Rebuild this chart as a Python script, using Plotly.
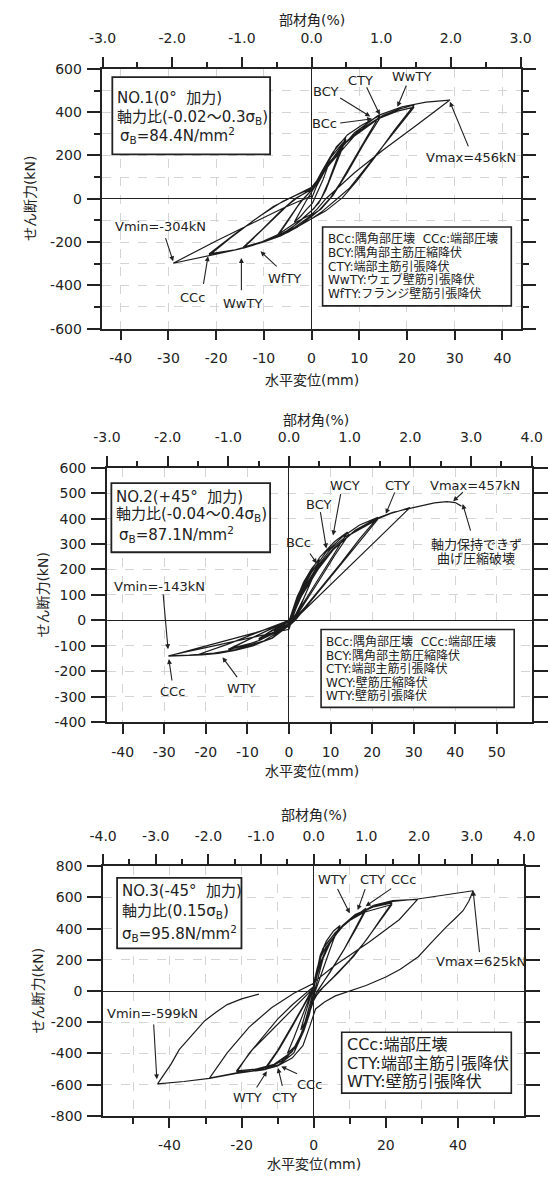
import plotly.graph_objects as go

W, H = 550, 1183
FONT = "DejaVu Sans, Noto Sans CJK JP, sans-serif"
INK = "#222222"

# ---------------- data ----------------
# Panel 1 : NO.1 (0 deg) horizontal displacement (mm) / shear force (kN)
p1_x = [0, 1, 2.2, 3.6, 2.4, 1.2, 0.2, -1, -2.3, -3.6, -2.3, -1, 0,
        1.5, 3.2, 5.2, 7.2, 5.4, 3.5, 2, 0.5, -1.5, -3.5, -5.5, -7.2, -5, -3, -1.5, 0,
        2, 4.2, 7.2, 5, 3, 1.5, 0, -2.5, -5, -7.2, -4.6, -2.3, 0,
        2, 4.5, 7.5, 10.5, 14.3, 11.5, 8.5, 6, 4, 1.5, 0, -3, -6.5, -10, -14.3, -11, -8, -5, -3, 0,
        3, 6.5, 10, 14.3, 11, 7.5, 4.5, 2, 0, -3.5, -8, -14.3, -10.5, -6.5, -3.5, 0,
        3, 7, 11, 15, 18.5, 21.5, 17.5, 13.5, 9.5, 6.5, 3, 0, -4, -9, -14, -18, -21.5, -17, -12, -8, -5, -2, 0,
        4, 9, 14, 18, 21.5, 17, 12, 8, 5.5, 2, 0, -5, -11, -16, -21.5, -16, -10.5, -6, -3, 0,
        4, 9, 14, 19, 24, 29, 22, 15, 9, 5, 3, 1.2, 0, -3, -7, -11, -15, -20, -25, -29, -20, -12, -6, -3, 0]
p1_y = [0, 55, 105, 160, 88, 25, -20, -48, -82, -108, -53, -5, 30,
        85, 155, 240, 285, 190, 75, 0, -45, -83, -122, -152, -175, -105, -38, 5, 40,
        115, 195, 275, 150, 40, -20, -55, -105, -148, -170, -88, -15, 38,
        120, 215, 295, 340, 385, 282, 168, 72, 5, -55, -82, -132, -172, -200, -228, -158, -92, -30, 5, 46,
        142, 250, 315, 372, 255, 120, 15, -48, -76, -132, -183, -224, -145, -58, 0, 43,
        135, 255, 330, 385, 415, 433, 320, 198, 82, 5, -56, -92, -142, -190, -226, -246, -262, -182, -98, -36, -2, 29, 53,
        165, 290, 370, 405, 423, 298, 162, 50, 2, -63, -92, -156, -206, -236, -255, -162, -75, -12, 19, 48,
        175, 305, 385, 425, 446, 456, 340, 225, 120, 40, 0, -47, -72, -105, -165, -205, -232, -256, -278, -298, -195, -107, -44, -15, 12]

# Panel 2 : NO.2 (+45 deg)
p2_x = [0, 1.2, 2.4, 3.6, 2.4, 1.2, 0, -1.5, -3.6, -2, 0,
        1.5, 3.5, 5.5, 7.3, 5.5, 3.5, 1.5, 0, -2.5, -5, -7.3, -4.5, -2, 0,
        2, 4.5, 7.3, 5, 2.5, 0, -3.5, -7.3, -4, 0,
        2, 4.5, 7.5, 11, 14.1, 11, 8, 5, 2, 0, -3, -7, -11, -14.6, -10, -5, 0,
        3, 6.5, 10, 14.5, 11, 7, 3.5, 0.5, -3.5, -8, -14.6, -9, -4, 0,
        2.5, 5.5, 9, 13, 17, 21.4, 17, 12.5, 8, 4, 1, 0, -4, -8.7, -13, -17, -22, -15, -8, -3, 0,
        3, 6.5, 10.5, 15, 21.4, 16, 10.5, 5.5, 1.5, 0, -6, -13, -18, -24, -29, -20, -12, -5, 0,
        1.5, 3.5, 6.5, 10.5, 15, 20, 24.5, 29.1, 22, 16, 10, 5, 2, 0, -4, -8.7, -13, -17, -21, -25, -29, -21, -14.9, -8, -3, 0,
        3, 7, 11, 16, 21, 25, 29.1, 32, 35, 38, 40, 41.5]
p2_y = [0, 50, 95, 130, 75, 25, -12, -25, -42, -25, -5,
        70, 150, 205, 240, 160, 85, 20, -15, -38, -57, -75, -45, -20, -2,
        90, 170, 232, 140, 45, -15, -45, -72, -38, -3,
        95, 175, 250, 310, 347, 265, 185, 105, 30, -18, -45, -78, -100, -115, -78, -38, -3,
        110, 205, 280, 340, 255, 150, 60, -15, -50, -85, -113, -70, -30, 0,
        100, 190, 270, 330, 375, 405, 320, 225, 135, 55, 0, -20, -70, -98, -117, -128, -135, -95, -50, -20, 0,
        105, 200, 280, 340, 398, 290, 180, 80, 0, -22, -80, -115, -128, -136, -139, -107, -78, -53, -35,
        40, 115, 195, 275, 340, 390, 420, 443, 330, 235, 140, 62, 15, -18, -68, -100, -118, -130, -136, -139, -140, -105, -78, -48, -22, -8,
        95, 200, 285, 355, 400, 425, 440, 452, 462, 467, 463, 449]

# Panel 3 : NO.3 (-45 deg)
p3_x = [0, 0.8, 2, 3.6, 2.5, 1.2, 0, -1, -2.2, -3.6, -2.4, -1, 0,
        0.7, 1.8, 3.5, 5.5, 7.3, 5.5, 3.5, 1.8, 0, -1.2, -2.8, -5, -7.3, -5.5, -3.5, -1.5, 0,
        0.7, 2.5, 6, 11.3, 14.5, 12, 8.5, 5, 1.5, 0, -1.5, -3, -5.5, -9.9, -13.5, -10, -6.5, -3, 0,
        1.5, 4, 8, 11.5, 14.5, 11.5, 8, 4.5, 1, 0, -2, -5, -9, -13.5, -9.5, -6, -2.5, 0,
        1.5, 4, 8, 12, 16.6, 21.7, 18.5, 15, 11, 6.5, 2.5, 0, -2, -4.5, -8, -13, -17, -21.4, -17.9, -14, -10, -6, -2, 0,
        2, 5, 9, 14, 21.7, 18, 14, 10, 5.5, 1.5, 0, -2.5, -6, -11, -16, -21.4, -17, -11.7, -6.4, -1.9, 0,
        2.5, 6, 11.3, 16.6, 21.9, 28.8, 23.7, 15.3, 6, 0.4, -0.6, -2.8, -5.5, -9.9, -13.4, -21.4, -28.9, -24, -17.9, -11.7, -5.5, -1.9, 0,
        1, 3, 7, 12, 17, 22, 28.8, 35, 40, 44.2, 43, 41.4, 39, 36.7, 33, 29, 24, 20, 14.5, 9, 6, 3, 0.5,
        -1, -3, -6, -10, -14, -21.4, -28.9, -36, -43.3, -39.6, -37.3, -34, -30.2, -27, -24, -20, -15.2]
p3_y = [0, 120, 220, 290, 200, 90, -20, -110, -190, -250, -150, -40, 30,
        110, 230, 320, 385, 420, 330, 200, 90, -30, -150, -260, -350, -400, -300, -180, -60, 30,
        100, 270, 375, 477, 530, 420, 270, 140, 20, -40, -170, -270, -397, -475, -495, -380, -240, -100, 30,
        160, 300, 420, 490, 520, 390, 250, 120, 0, -50, -200, -360, -450, -505, -370, -230, -80, 20,
        150, 290, 420, 490, 540, 565, 460, 340, 220, 110, 20, -50, -190, -340, -440, -490, -510, -520, -400, -290, -180, -90, -10, 30,
        180, 330, 440, 505, 555, 440, 310, 200, 90, 0, -60, -230, -390, -470, -500, -512, -376, -253, -128, -25, 20,
        271, 374, 477, 550, 580, 588, 457, 312, 167, 64, -45, -230, -397, -479, -500, -525, -558, -397, -231, -107, -14, 27, 50,
        150, 290, 400, 490, 545, 575, 590, 610, 628, 643, 575, 515, 460, 410, 320, 220, 140, 90, 35, -5, -31, -70, -115,
        -220, -350, -430, -480, -505, -528, -560, -580, -595, -470, -376, -290, -190, -135, -87, -50, -20]

for a, b in ((p1_x, p1_y), (p2_x, p2_y), (p3_x, p3_y)):
    assert len(a) == len(b)

# tick values
p1_mm_ticks = [-40, -30, -20, -10, 0, 10, 20, 30, 40]
p2_mm_ticks = [-40, -30, -20, -10, 0, 10, 20, 30, 40, 50]
p3_mm_ticks = [-40, -20, 0, 20, 40]
p3_mm_minor = [-50, -30, -10, 10, 30, 50]
p1_pct_ticks = [-3, -2, -1, 0, 1, 2, 3]
p2_pct_ticks = [-3, -2, -1, 0, 1, 2, 3, 4]
p3_pct_ticks = [-4, -3, -2, -1, 0, 1, 2, 3, 4]
p1_kn_ticks = [-600, -400, -200, 0, 200, 400, 600]
p1_kn_minor = [-500, -300, -100, 100, 300, 500]
p2_kn_ticks = [-400, -300, -200, -100, 0, 100, 200, 300, 400, 500, 600]
p3_kn_ticks = [-800, -600, -400, -200, 0, 200, 400, 600, 800]

# texts
SP = "\u00a0\u00a0"
p1_box = ["NO.1(0°" + SP + "加力)", "軸力比(-0.02～0.3σ<sub>B</sub>)", "σ<sub>B</sub>=84.4N/mm<sup>2</sup>"]
p2_box = ["NO.2(+45°" + SP + "加力)", "軸力比(-0.04～0.4σ<sub>B</sub>)", "σ<sub>B</sub>=87.1N/mm<sup>2</sup>"]
p3_box = ["NO.3(-45°" + SP + "加力)", "軸力比(0.15σ<sub>B</sub>)", "σ<sub>B</sub>=95.8N/mm<sup>2</sup>"]
p1_legend = ["BCc:隅角部圧壊" + SP + "CCc:端部圧壊", "BCY:隅角部主筋圧縮降伏", "CTY:端部主筋引張降伏",
             "WwTY:ウェブ壁筋引張降伏", "WfTY:フランジ壁筋引張降伏"]
p2_legend = ["BCc:隅角部圧壊" + SP + "CCc:端部圧壊", "BCY:隅角部主筋圧縮降伏", "CTY:端部主筋引張降伏",
             "WCY:壁筋圧縮降伏", "WTY:壁筋引張降伏"]
p3_legend = ["CCc:端部圧壊", "CTY:端部主筋引張降伏", "WTY:壁筋引張降伏"]

p1_labels = [("BCY", 3.0, 497), ("CTY", 10.2, 547), ("WwTY", 21, 565), ("BCc", 2.7, 349),
             ("Vmax=456kN", 33.5, 190), ("Vmin=-304kN", -31.7, -130), ("CCc", -24.9, -454),
             ("WwTY", -14.5, -486), ("WfTY", -5.7, -369)]
p1_arrows = [(5.7, 470, 12.3, 380), (11.4, 522, 14.3, 388), (20, 530, 18, 425), (5.7, 349, 12.7, 369),
             (33, 235, 29, 448), (-30.7, -175, -29, -289), (-22.7, -400, -21.7, -266),
             (-14.7, -430, -14.7, -274), (-7, -319, -10.7, -243)]
p2_labels = [("WCY", 13.4, 529), ("CTY", 26, 529), ("BCY", 7.3, 457), ("BCc", 2.4, 308),
             ("Vmax=457kN", 44.7, 529), ("軸力保持できず", 45.1, 300), ("曲げ圧縮破壊", 45.1, 244),
             ("Vmin=-143kN", -31.1, 133), ("CCc", -28, -281), ("WTY", -11.4, -268)]
p2_arrows = [(12.5, 502, 10.6, 334), (25.6, 509, 23.3, 419), (7.5, 431, 9, 283), (4.8, 269, 6.7, 224),
             (42.2, 509, 39.5, 468), (43.8, 347, 41.8, 457), (-30.3, 108, -29.1, -113),
             (-28.1, -242, -28.9, -152), (-12.2, -229, -16, -145)]
p3_labels = [("WTY", 5.1, 715), ("CTY", 16.2, 715), ("CCc", 25, 715), ("Vmax=625kN", 46.5, 188),
             ("Vmin=-599kN", -44.6, -143), ("WTY", -18.3, -680), ("CTY", -8.1, -680), ("CCc", -1.1, -597)]
p3_arrows = [(6.4, 663, 10, 498), (14.4, 663, 12.2, 519), (21.9, 663, 14.4, 544), (46, 240, 44.2, 643),
             (-44.4, -205, -43.5, -566), (-4.2, -535, -9, -484), (-8.6, -618, -9.9, -494),
             (-16.1, -628, -13, -515)]

# ---------------- layout geometry (pixels) ----------------
K = 14.6  # mm per 1 % drift
panels = [
    dict(x=p1_x, y=p1_y, box=p1_box, legend=p1_legend, labels=p1_labels, arrows=p1_arrows,
         mm=p1_mm_ticks, mm_minor=None, pct=p1_pct_ticks, kn=p1_kn_ticks, kn_minor=p1_kn_minor,
         pr=[-3, 3], yr=[-600, 600], L=92.7, R=530.7, T=61.7, B=325,
         boxpx=(103, 268.3, 70, 148.3), boxlines=[(106, 91.7), (106, 110.5), (109, 129.5)], boxfs=15,
         legpx=(323.3, 521, 222, 302), leglines=[234.5, 248.2, 261.9, 275.6, 289.3], legx=327, legfs=12,
         ttop=(312, 12), tbot=(312, 377), tyl=(17.5, 193)),
    dict(x=p2_x, y=p2_y, box=p2_box, legend=p2_legend, labels=p2_labels, arrows=p2_arrows,
         mm=p2_mm_ticks, mm_minor=None, pct=p2_pct_ticks, kn=p2_kn_ticks, kn_minor=None,
         pr=[-3, 4], yr=[-400, 600], L=97.3, R=542.4, T=466, B=724,
         boxpx=(102, 268.3, 481.7, 551.7), boxlines=[(105, 495.5), (105, 513), (108, 534)], boxfs=15,
         legpx=(321.7, 524, 630, 709), leglines=[642.5, 656.2, 669.9, 683.6, 697.3], legx=325, legfs=12,
         ttop=(316, 418), tbot=(312, 773), tyl=(30, 595)),
    dict(x=p3_x, y=p3_y, box=p3_box, legend=p3_legend, labels=p3_labels, arrows=p3_arrows,
         mm=p3_mm_ticks, mm_minor=p3_mm_minor, pct=p3_pct_ticks, kn=p3_kn_ticks, kn_minor=None,
         pr=[-4, 4], yr=[-800, 800], L=93.3, R=534.7, T=870, B=1123,
         boxpx=(108, 238.3, 881.7, 953.3), boxlines=[(111.5, 895), (111.5, 915.5), (111.5, 938)], boxfs=15,
         legpx=(343.3, 521, 1038.3, 1100), leglines=[1051.2, 1069.5, 1087.8], legx=347, legfs=16,
         ttop=(314, 818), tbot=(314, 1172), tyl=(25, 996)),
]


def fx(px):
    return px / W


def fy(py):
    return 1 - py / H


def lab(v, dec=0):
    return f"{v:.{dec}f}"


fig = go.Figure()
shapes, annotations = [], []
layout = dict(width=W, height=H, margin=dict(l=0, r=0, t=0, b=0, pad=0), autosize=False,
              paper_bgcolor="white", plot_bgcolor="white", showlegend=False,
              font=dict(family=FONT, color=INK))

tick_font = dict(family=FONT, size=14, color=INK)
GRID = "#d4d4d4"
EPS = 1e-3
for i, p in enumerate(panels, start=1):
    sfx = "" if i == 1 else str(i)
    top_id = i + 3
    xname, yname, tname = "x" + sfx, "y" + sfx, "x" + str(top_id)
    pr = [p["pr"][0] - EPS, p["pr"][1] + EPS]
    xr = [pr[0] * K, pr[1] * K]
    fig.add_trace(go.Scatter(x=p["x"], y=p["y"], mode="lines", xaxis=xname, yaxis=yname,
                             line=dict(color="#1c1c1c", width=1.2), hoverinfo="skip"))
    # invisible trace that activates the top (drift angle) axis
    fig.add_trace(go.Scatter(x=[0], y=[0], mode="markers", marker=dict(opacity=0), xaxis=tname,
                             yaxis=yname, hoverinfo="skip"))
    xdom = [fx(p["L"]), fx(p["R"])]
    ydom = [fy(p["B"]), fy(p["T"])]
    xa = dict(domain=xdom, anchor=yname, range=xr, tickmode="array", tickvals=p["mm"],
              ticktext=[lab(v) for v in p["mm"]], ticks="outside", ticklen=10, tickwidth=1.5,
              tickcolor=INK, showline=True, linecolor=INK, linewidth=1.6, mirror=False,
              showgrid=True, gridcolor=GRID, griddash="dash", gridwidth=1,
              zeroline=True, zerolinecolor=INK, zerolinewidth=1.3, tickfont=tick_font,
              ticklabelstandoff=6, fixedrange=True)
    if p["mm_minor"]:
        xa["minor"] = dict(tickmode="array", tickvals=p["mm_minor"], ticks="outside", ticklen=6,
                           tickwidth=1.5, tickcolor=INK, showgrid=True, gridcolor=GRID,
                           griddash="dash", gridwidth=1)
    layout["xaxis" + sfx] = xa
    pct_minor = [v + 0.5 for v in p["pct"][:-1]]
    layout["xaxis" + str(top_id)] = dict(
        overlaying=xname, anchor=yname, side="top", domain=xdom, range=pr,
        tickmode="array", tickvals=p["pct"], ticktext=[lab(v, 1) for v in p["pct"]],
        ticks="outside", ticklen=10, tickwidth=1.5, tickcolor=INK, showline=True, linecolor=INK,
        linewidth=1.6, showgrid=False, zeroline=False, tickfont=tick_font, ticklabelstandoff=8,
        fixedrange=True,
        minor=dict(tickmode="array", tickvals=pct_minor, ticks="outside", ticklen=5, tickwidth=1.5,
                   tickcolor=INK, showgrid=False))
    ya = dict(domain=ydom, anchor=xname, range=p["yr"], tickmode="array", tickvals=p["kn"],
              ticktext=[lab(v) for v in p["kn"]], ticks="outside", ticklen=14, tickwidth=1.5,
              tickcolor=INK, showline=True, linecolor=INK, linewidth=1.6, mirror="ticks",
              showgrid=True, gridcolor=GRID, griddash="dash", gridwidth=1,
              zeroline=True, zerolinecolor=INK, zerolinewidth=1.3, tickfont=tick_font,
              ticklabelstandoff=2, fixedrange=True)
    if p["kn_minor"]:
        ya["minor"] = dict(tickmode="array", tickvals=p["kn_minor"], ticks="outside", ticklen=7,
                           tickwidth=1.5, tickcolor=INK, showgrid=True, gridcolor=GRID,
                           griddash="dash", gridwidth=1)
    layout["yaxis" + sfx] = ya

    # specimen info box
    bx0, bx1, by0, by1 = p["boxpx"]
    shapes.append(dict(type="rect", xref="paper", yref="paper", x0=fx(bx0), x1=fx(bx1),
                       y0=fy(by1), y1=fy(by0), line=dict(color=INK, width=1.8),
                       fillcolor="white", layer="above"))
    for txt, (lx, ly) in zip(p["box"], p["boxlines"]):
        annotations.append(dict(text=txt, xref="paper", yref="paper", x=fx(lx), y=fy(ly),
                                xanchor="left", yanchor="middle", showarrow=False,
                                font=dict(family=FONT, size=p["boxfs"], color=INK)))
    # abbreviation legend box
    lx0, lx1, ly0, ly1 = p["legpx"]
    shapes.append(dict(type="rect", xref="paper", yref="paper", x0=fx(lx0), x1=fx(lx1),
                       y0=fy(ly1), y1=fy(ly0), line=dict(color=INK, width=1.6),
                       fillcolor="white", layer="above"))
    for txt, ly in zip(p["legend"], p["leglines"]):
        annotations.append(dict(text=txt, xref="paper", yref="paper", x=fx(p["legx"]), y=fy(ly),
                                xanchor="left", yanchor="middle", showarrow=False,
                                font=dict(family=FONT, size=p["legfs"], color=INK)))
    # event labels and arrows
    for txt, ax_, ay_ in p["labels"]:
        annotations.append(dict(text=txt, xref=xname, yref=yname, x=ax_, y=ay_, showarrow=False,
                                xanchor="center", yanchor="middle",
                                font=dict(family=FONT, size=13, color=INK)))
    for tx, ty, hx, hy in p["arrows"]:
        annotations.append(dict(text="", xref=xname, yref=yname, x=hx, y=hy, axref=xname,
                                ayref=yname, ax=tx, ay=ty, showarrow=True, arrowhead=2,
                                arrowsize=0.9, arrowwidth=1.1, arrowcolor=INK))
    # axis titles
    annotations.append(dict(text="部材角(%)", xref="paper", yref="paper", x=fx(p["ttop"][0]),
                            y=fy(p["ttop"][1]), showarrow=False, xanchor="center", yanchor="middle",
                            font=dict(family=FONT, size=14, color=INK)))
    annotations.append(dict(text="水平変位(mm)", xref="paper", yref="paper", x=fx(p["tbot"][0]),
                            y=fy(p["tbot"][1]), showarrow=False, xanchor="center", yanchor="middle",
                            font=dict(family=FONT, size=14, color=INK)))
    annotations.append(dict(text="せん断力(kN)", xref="paper", yref="paper", x=fx(p["tyl"][0]),
                            y=fy(p["tyl"][1]), showarrow=False, xanchor="center", yanchor="middle",
                            textangle=-90, font=dict(family=FONT, size=14, color=INK)))

layout["shapes"] = shapes
layout["annotations"] = annotations
fig.update_layout(**layout)
fig.write_html("out.html")
